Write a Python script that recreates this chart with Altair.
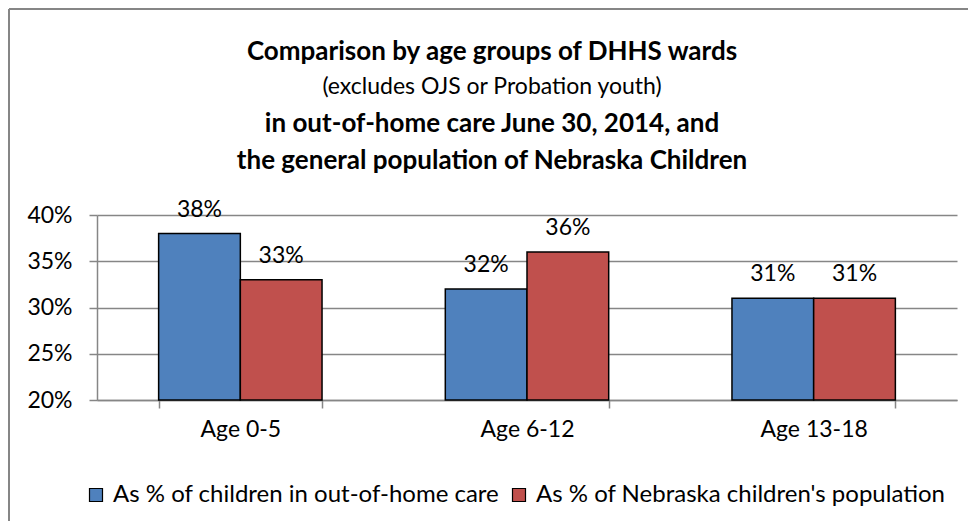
import altair as alt
import pandas as pd

categories = ["Age 0-5", "Age 6-12", "Age 13-18"]
series = ["As % of children in out-of-home care", "As % of Nebraska children's population"]
out_of_home = [0.38, 0.32, 0.31]
nebraska = [0.33, 0.36, 0.31]
colors = ["#4F81BD", "#C0504D"]
y_ticks = [0.20, 0.25, 0.30, 0.35, 0.40]
title_lines = [
    "Comparison by age groups of DHHS wards",
    "(excludes OJS or Probation youth)",
    "in out-of-home care June 30, 2014, and",
    "the general population of Nebraska Children",
]
title_bold = [True, False, True, True]
title_y = [-163, -128, -91, -54]

FONT = "Lato"
GRAY = "#868686"
LBL = 23

rows = []
for i, c in enumerate(categories):
    rows.append({"age": c, "series": series[0], "value": out_of_home[i]})
    rows.append({"age": c, "series": series[1], "value": nebraska[i]})
df = pd.DataFrame(rows)

x_enc = alt.X(
    "age:N",
    sort=categories,
    scale=alt.Scale(paddingInner=0.43, paddingOuter=0.215),
    axis=alt.Axis(
        title=None, labelAngle=0, tickBand="extent", tickSize=8, tickColor=GRAY,
        tickWidth=1.5, domainColor=GRAY, domainWidth=1.5, labelPadding=10,
        labelFontSize=LBL, labelFont=FONT, labelColor="black",
    ),
)
xoff = alt.XOffset("series:N", sort=series, scale=alt.Scale(paddingInner=0))
y_enc = alt.Y(
    "value:Q",
    scale=alt.Scale(domain=[0.2, 0.4], zero=False),
    axis=alt.Axis(
        title=None, values=y_ticks, format=".0%", grid=True, gridColor=GRAY,
        gridWidth=1.5, tickSize=8, tickColor=GRAY, tickWidth=1.5, domainColor=GRAY,
        domainWidth=1.5, labelPadding=17, labelFontSize=LBL, labelFont=FONT,
        labelColor="black",
    ),
)

bars = alt.Chart(df).mark_bar(stroke="black", strokeWidth=1.5).encode(
    x=x_enc,
    xOffset=xoff,
    y=y_enc,
    y2=alt.datum(0.2),
    color=alt.Color(
        "series:N",
        sort=series,
        scale=alt.Scale(domain=series, range=colors),
        legend=alt.Legend(
            title=None, orient="none", direction="horizontal", legendX=-13, legendY=268,
            symbolType="square", symbolSize=169, symbolStrokeColor="black",
            symbolStrokeWidth=1.2, labelFontSize=24, labelFont=FONT, labelColor="black",
            columnPadding=7, labelOffset=5, labelLimit=600,
        ),
    ),
)

labels = alt.Chart(df).mark_text(
    baseline="bottom", dy=-12, fontSize=LBL, font=FONT, color="black"
).encode(
    x=x_enc,
    xOffset=xoff,
    y=y_enc,
    text=alt.Text("value:Q", format=".0%"),
)

dummy = pd.DataFrame({"d": [0]})
border_top = alt.Chart(dummy).mark_rule(color=GRAY, strokeWidth=2).encode(
    x=alt.value(-88), x2=alt.value(871), y=alt.value(-206)
)
border_left = alt.Chart(dummy).mark_rule(color=GRAY, strokeWidth=2).encode(
    x=alt.value(-88), y=alt.value(-206), y2=alt.value(306)
)

title_layers = []
for line, bold, yy in zip(title_lines, title_bold, title_y):
    t = alt.Chart(pd.DataFrame({"t": [line]})).mark_text(
        fontSize=26 if bold else 23,
        fontWeight="bold" if bold else "normal",
        font=FONT, align="center", baseline="middle", color="black",
    ).encode(x=alt.value(395), y=alt.value(yy), text="t:N")
    title_layers.append(t)

chart = alt.layer(border_top, border_left, *title_layers, bars, labels).properties(
    width=860,
    height=185,
    autosize=alt.AutoSizeParams(type="none"),
    padding={"left": 89, "top": 207, "right": 11, "bottom": 121},
).configure_view(stroke=None)

chart.save("out.html", embed_options={"renderer": "svg", "actions": False})
